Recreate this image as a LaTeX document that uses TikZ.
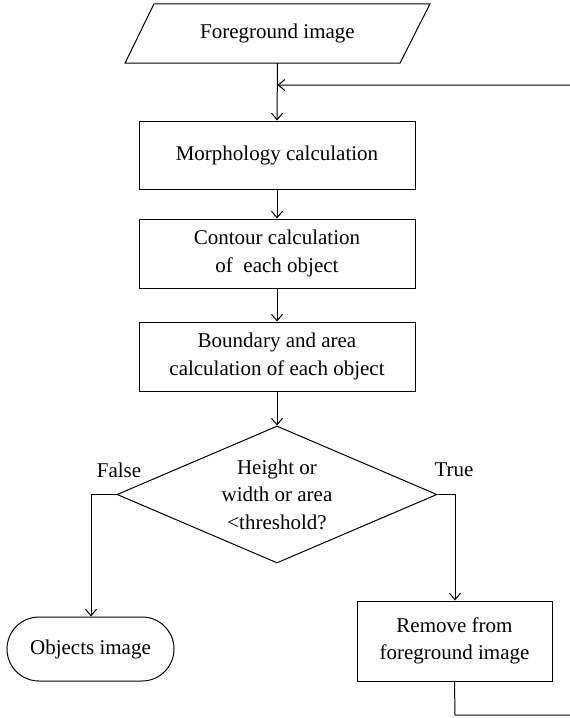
\documentclass[tikz,border=0pt]{standalone}
\usepackage{fontspec}
\setmainfont{Liberation Serif}
\usetikzlibrary{shapes.geometric,arrows.meta}
\begin{document}
\begin{tikzpicture}[x=1pt,y=-1pt,
  every node/.style={font=\fontsize{21}{27.5}\selectfont, text=black},
  ln/.style={line width=1pt, draw=black},
  arr/.style={ln, -{Straight Barb[length=6.5pt,width=11pt]}},
  procbox/.style={ln, draw, rectangle, minimum width=276, minimum height=68, align=center, inner sep=0},
  iobox/.style={rectangle, minimum width=276, minimum height=59, inner sep=0},
  decbox/.style={ln, draw, diamond, minimum width=320, minimum height=137, shape aspect=2.336, inner sep=0, align=center},
  termbox/.style={ln, draw, rectangle, rounded corners=32, minimum width=167, minimum height=64, inner sep=0}
]
\useasboundingbox (0,0) rectangle (570,718);

\node[iobox] (fg) at (277.5,33.5) {Foreground image};
\draw[ln, line join=miter] ([xshift=-152.5]fg.south) -- ([xshift=122.5]fg.south)
   -- ([xshift=152.5]fg.north) -- ([xshift=-123.5]fg.north) -- cycle;
\node[procbox] (morph) at (277,155) {Morphology calculation};
\node[procbox, minimum height=69] (cont) at (277,253.5) {Contour calculation\\of \ each object};
\node[procbox, minimum height=69] (bound) at (277,356.5) {Boundary and area\\calculation of each object};
\node[decbox] (dec) at (277,494.5) {Height or\\width or area\\<threshold?};
\node[termbox] (obj) at (90.5,649) {Objects image};
\node[procbox, minimum width=195, minimum height=80] (rem) at (454.5,641) {Remove from\\foreground image};

\node (flab) at (119,470) {False};
\node (tlab) at (454,470) {True};

\coordinate (j) at (277.5,85);
\coordinate (fa) at (91,494.5);
\coordinate (ta) at (455,494.5);
\coordinate (b1) at (455,715);
\coordinate (b2) at (576,715);
\coordinate (b3) at (576,85);

\draw[arr] (fg.south) -- (morph.north);
\draw[arr] (morph.south) -- (cont.north);
\draw[arr] (cont.south) -- (bound.north);
\draw[arr] (bound.south) -- (dec.north);
\draw[arr] (dec.west) -- (fa) -- (fa |- obj.north);
\draw[arr] (dec.east) -- (ta) -- (ta |- rem.north);
\draw[arr] (rem.south) -- (b1) -- (b2) -- (b3) -- (j);
\end{tikzpicture}
\end{document}
